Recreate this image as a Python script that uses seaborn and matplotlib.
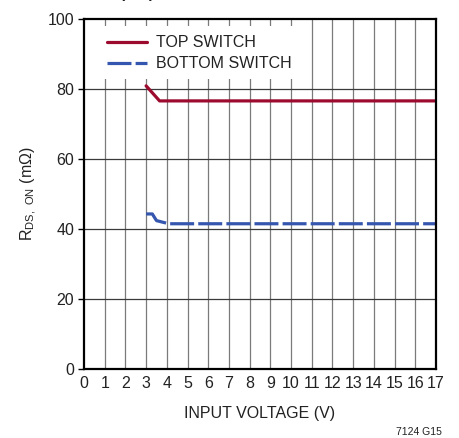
import matplotlib
matplotlib.use("Agg")
import matplotlib.pyplot as plt
import seaborn as sns
import pandas as pd
from matplotlib.patches import Rectangle

# ---- data ----
top_v = [3.0, 3.65, 17.0]
top_r = [80.9, 76.6, 76.6]
bot_v = [3.0, 3.3, 3.5, 3.83, 4.1, 17.0]
bot_r = [44.3, 44.3, 42.4, 41.9, 41.5, 41.5]
series_names = ["TOP SWITCH", "BOTTOM SWITCH"]
x_ticks = list(range(0, 18))
y_ticks = [0, 20, 40, 60, 80, 100]

df = pd.concat([
    pd.DataFrame({"v": top_v, "r": top_r, "s": series_names[0]}),
    pd.DataFrame({"v": bot_v, "r": bot_r, "s": series_names[1]}),
])

sns.set_theme(style="white")
plt.rcParams["font.family"] = ["Liberation Sans", "DejaVu Sans"]
plt.rcParams["mathtext.fontset"] = "custom"
plt.rcParams["mathtext.rm"] = "Liberation Sans"
plt.rcParams["mathtext.bf"] = "Liberation Sans:bold"

fig = plt.figure(figsize=(4.59, 4.38), dpi=100)
ax = fig.add_axes([84/459, 69/438, 352/459, 350/438])

red = "#9c0a2e"
blue = "#3556ae"
sns.lineplot(data=df, x="v", y="r", hue="s", style="s",
             palette={series_names[0]: red, series_names[1]: blue},
             dashes={series_names[0]: "", series_names[1]: (7.5, 1.3)},
             estimator=None, sort=False, linewidth=2.3, legend=False,
             ax=ax, zorder=4)

ax.set_xlim(0, 17)
ax.set_ylim(0, 100)
ax.set_xticks(x_ticks)
ax.set_xticklabels([str(t) for t in x_ticks])
ax.set_yticks(y_ticks)

for xv in x_ticks[1:]:
    ax.axvline(xv, color="#7a7a7a", lw=0.9, zorder=1)
for yv in y_ticks[1:-1]:
    ax.axhline(yv, color="#3a3a3a", lw=0.9, zorder=1)

# white legend area
ax.add_patch(Rectangle((0.05, 83.0), 10.45, 14.9, facecolor="white",
                       edgecolor="none", zorder=2))

for sp in ax.spines.values():
    sp.set_color("black")
    sp.set_linewidth(1.6)
    sp.set_zorder(5)

ax.tick_params(axis="y", which="both", left=True, length=4, width=1.0,
               color="black", labelsize=11.5, labelcolor="#222222", pad=3)
ax.tick_params(axis="x", which="both", bottom=False, length=0,
               labelsize=11.5, labelcolor="#222222", pad=5)

ax.set_xlabel("INPUT VOLTAGE (V)", fontsize=11.5, color="#222222", labelpad=11)
ax.set_ylabel(r"R$_{\mathrm{DS,\ ON}}$ (m$\Omega$)", fontsize=11.5,
              color="#222222", labelpad=6)

leg = ax.legend(handles=ax.lines[:2], labels=series_names, loc="upper left",
                bbox_to_anchor=(0.065, 0.953), frameon=False, fontsize=11.5,
                handlelength=2.5, handletextpad=0.6, labelspacing=0.37,
                borderpad=0, borderaxespad=0)
for t in leg.get_texts():
    t.set_color("#222222")

fig.text(82/459, 1.0 + 5/438, r"$\mathbf{R_{DS(ON)}}$ vs Input Supply Voltage",
         fontsize=16, fontweight="bold", ha="left", va="baseline",
         color="#222222")
fig.text(442/459, 6/438, "7124 G15", fontsize=7.5, ha="right",
         va="center", color="#222222")

fig.savefig("out.png", dpi=100)
